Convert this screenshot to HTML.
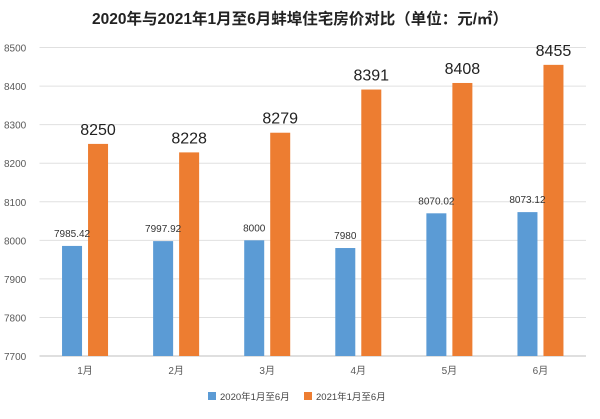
<!DOCTYPE html>
<html><head><meta charset="utf-8"><style>
body{margin:0;background:#fff;}
svg text{font-family:"Liberation Sans","Noto Sans CJK SC",sans-serif;}
</style></head><body>
<svg width="600" height="414" viewBox="0 0 600 414">
<rect x="0" y="0" width="600" height="414" fill="#fff"/>
<text x="300" y="24" text-anchor="middle" font-size="15.5" font-weight="bold" fill="#222">2020年与2021年1月至6月蚌埠住宅房价对比（单位：元/㎡）</text>
<g id="grid"></g><g id="bars"></g><g id="labels"></g>
<g>
<rect x="208" y="392" width="8" height="8" fill="#5b9bd5"/>
<text x="220" y="400" font-size="9.5" fill="#444">2020年1月至6月</text>
<rect x="304" y="392" width="8" height="8" fill="#ed7d31"/>
<text x="316" y="400" font-size="9.5" fill="#444">2021年1月至6月</text>
</g>
</svg>
<script>
const categories=["1月","2月","3月","4月","5月","6月"];
const values2020=[7985.42,7997.92,8000,7980,8070.02,8073.12];
const labels2020=["7985.42","7997.92","8000","7980","8070.02","8073.12"];
const values2021=[8250,8228,8279,8391,8408,8455];
const yTicks=[7700,7800,7900,8000,8100,8200,8300,8400,8500];
const NS="http://www.w3.org/2000/svg";
const x0=39.5,x1=586,yMin=7700,yMax=8500,pyB=356,pyT=47.5;
const step=(x1-x0)/categories.length;
function y(v){return pyB-(v-yMin)/(yMax-yMin)*(pyB-pyT);}
function cx(i){return x0+step*(i+0.5);}
function mk(tag,attrs,parent,txt){const e=document.createElementNS(NS,tag);for(const k in attrs)e.setAttribute(k,attrs[k]);if(txt!==undefined)e.textContent=txt;document.getElementById(parent).appendChild(e);return e;}
yTicks.forEach(t=>{
 const l=mk("line",{x1:x0,x2:x1,y1:y(t),y2:y(t),stroke:t===yMin?"#bfbfbf":"#e0e0e0","stroke-width":1},"grid");
 
 
 const tx=mk("text",{x:4,y:y(t)+4,"font-size":10,fill:"#595959"},"grid",String(t));
 
 
});
categories.forEach((c,i)=>{
 const bx=cx(i);
 const b1=mk("rect",{x:bx-23,y:y(values2020[i]),width:20,height:pyB-y(values2020[i]),fill:"#5b9bd5"},"bars");
 
 
 const b2=mk("rect",{x:bx+3,y:y(values2021[i]),width:20,height:pyB-y(values2021[i]),fill:"#ed7d31"},"bars");
 
 
 const t1=mk("text",{x:bx-13,y:y(values2020[i])-9,"text-anchor":"middle","font-size":10,fill:"#333"},"labels",labels2020[i]);
 
 
 const t2=mk("text",{x:bx+13,y:y(values2021[i])-9,"text-anchor":"middle","font-size":16,fill:"#222"},"labels",String(values2021[i]));
 
 
 const cl=mk("text",{x:bx,y:374,"text-anchor":"middle","font-size":10,fill:"#595959"},"labels",c);
 
 
});
</script>
</body></html>
